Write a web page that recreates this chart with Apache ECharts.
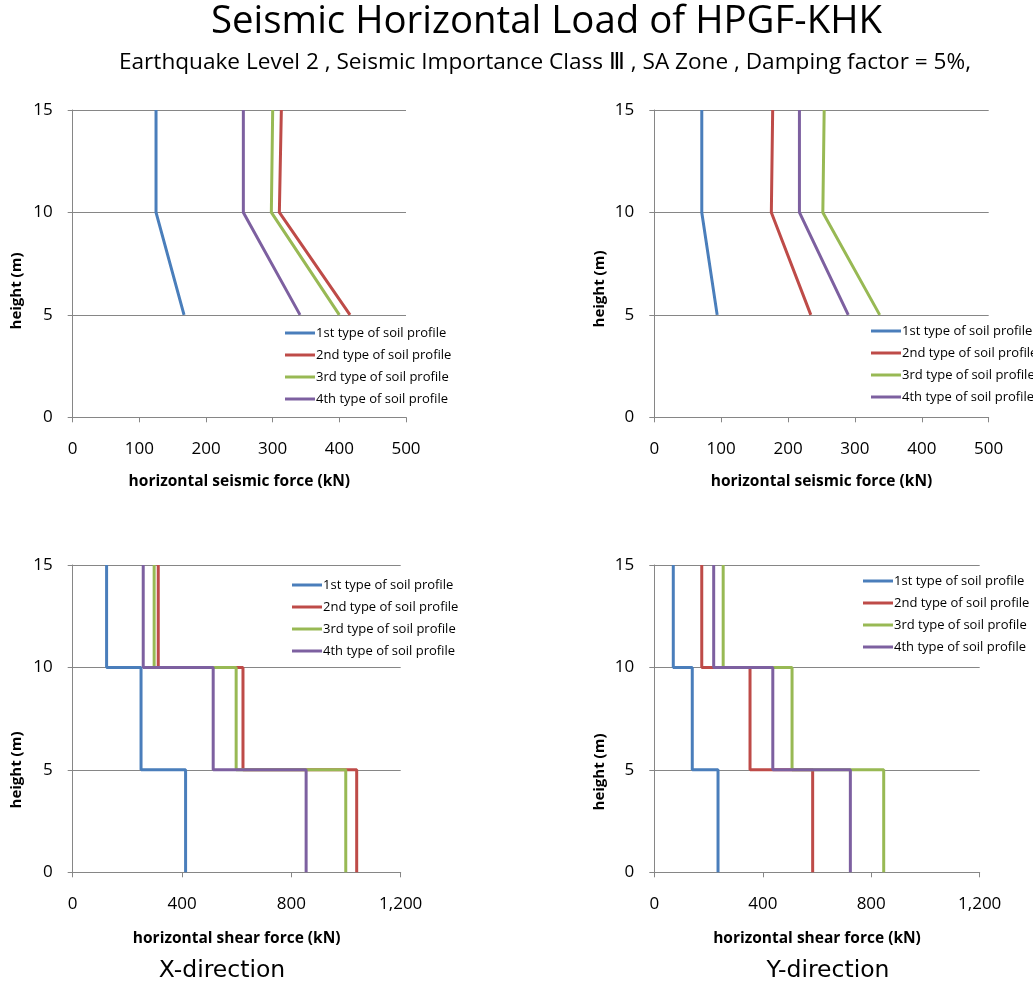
<!DOCTYPE html>
<html>
<head>
<meta charset="utf-8">
<title>Seismic Horizontal Load of HPGF-KHK</title>
<script src="https://cdn.jsdelivr.net/npm/echarts@6/dist/echarts.min.js"></script>
<style>
  html, body { margin: 0; padding: 0; background: #fff; }
  #chart { width: 1033px; height: 987px; }
</style>
</head>
<body>
<div id="chart"></div>
<script>
// Soil profile series names and colours
const soilTypes = ['1st type of soil profile', '2nd type of soil profile', '3rd type of soil profile', '4th type of soil profile'];
const colors = ['#4A7EBB', '#BE4B48', '#98B954', '#7D60A0'];

// Storey levels (m) at which horizontal forces act
const forceLevels = [15, 10, 5];
// Storey boundaries (m) for shear steps
const shearLevels = [15, 10, 5, 0];

// Horizontal seismic force (kN) at levels 15 / 10 / 5, X direction
const forceX1 = [125, 125, 167];
const forceX2 = [313, 310, 416];
const forceX3 = [300, 298, 400];
const forceX4 = [256, 256, 341];

// Horizontal seismic force (kN) at levels 15 / 10 / 5, Y direction
const forceY1 = [71, 71, 94];
const forceY2 = [177, 175, 234];
const forceY3 = [254, 252, 337];
const forceY4 = [217, 217, 290];

// Storey shear (kN) for storeys 15-10 / 10-5 / 5-0, X direction
const shearX1 = [124, 250, 413];
const shearX2 = [313, 623, 1039];
const shearX3 = [298, 598, 999];
const shearX4 = [258, 514, 854];

// Storey shear (kN) for storeys 15-10 / 10-5 / 5-0, Y direction
const shearY1 = [70, 140, 235];
const shearY2 = [175, 353, 584];
const shearY3 = [254, 508, 846];
const shearY4 = [219, 437, 723];

// Axis ticks
const heightTicks = { min: 0, max: 15, interval: 5 };
const forceTicks = { min: 0, max: 500, interval: 100 };
const shearTicks = { min: 0, max: 1200, interval: 400 };

const FONT = '"Open Sans", "Noto Sans", sans-serif';
const AXIS_GREY = '#868686';

// Force profile: one point per level, joined by straight segments
function forcePoints(vals) {
  return vals.map((v, i) => [v, forceLevels[i]]);
}
// Shear profile: constant within each storey, stepping at the boundaries
function shearPoints(vals) {
  const pts = [];
  vals.forEach((v, i) => {
    pts.push([v, shearLevels[i]]);
    pts.push([v, shearLevels[i + 1]]);
  });
  return pts;
}

const grids = [
  { left: 72.7, right: 627,  top: 110, height: 307.3 },
  { left: 654.3, right: 44.3, top: 110, height: 307.3 },
  { left: 72.7, right: 632.3, top: 565, height: 307.3 },
  { left: 654.3, right: 53.3, top: 565, height: 307.3 }
];

function xAxisFor(idx, ticks, name, gap, fmt) {
  return {
    gridIndex: idx, type: 'value',
    min: ticks.min, max: ticks.max, interval: ticks.interval,
    name: name, nameLocation: 'middle', nameGap: gap,
    nameTextStyle: { fontFamily: FONT, fontWeight: 'bold', fontSize: 15.5, color: '#000' },
    axisLine: { show: true, lineStyle: { color: AXIS_GREY, width: 1 } },
    axisTick: { show: true, inside: false, length: 5, lineStyle: { color: AXIS_GREY } },
    axisLabel: { margin: 23, fontFamily: FONT, fontSize: 17, color: '#000', formatter: fmt },
    splitLine: { show: false }
  };
}
function yAxisFor(idx) {
  return {
    gridIndex: idx, type: 'value',
    min: heightTicks.min, max: heightTicks.max, interval: heightTicks.interval,
    axisLine: { show: true, lineStyle: { color: AXIS_GREY, width: 1 } },
    axisTick: { show: true, inside: false, length: 5, lineStyle: { color: AXIS_GREY } },
    axisLabel: { margin: 20, fontFamily: FONT, fontSize: 17, color: '#000' },
    splitLine: { show: true, lineStyle: { color: AXIS_GREY, width: 1 } }
  };
}
const thousands = v => v.toLocaleString('en-US');

const panels = [
  [forceX1, forceX2, forceX3, forceX4, forcePoints],
  [forceY1, forceY2, forceY3, forceY4, forcePoints],
  [shearX1, shearX2, shearX3, shearX4, shearPoints],
  [shearY1, shearY2, shearY3, shearY4, shearPoints]
];

const series = [];
panels.forEach((p, gi) => {
  const build = p[4];
  for (let k = 0; k < 4; k++) {
    series.push({
      type: 'line', name: soilTypes[k],
      xAxisIndex: gi, yAxisIndex: gi,
      data: build(p[k]),
      showSymbol: false, symbol: 'none',
      lineStyle: { width: 3, color: colors[k] },
      itemStyle: { color: colors[k] },
      animation: false, silent: true
    });
  }
});

function legendAt(left, top) {
  return {
    left: left, top: top, orient: 'vertical', padding: 0,
    data: soilTypes, icon: 'rect', itemWidth: 30, itemHeight: 3,
    itemGap: 8, selectedMode: false,
    textStyle: { fontFamily: FONT, fontSize: 13, color: '#000', lineHeight: 14, padding: [0, 0, 0, -4] }
  };
}

function heightLabel(x, y) {
  return {
    type: 'text', x: x, y: y, rotation: Math.PI / 2,
    style: { text: 'height (m)', font: 'bold 15px ' + FONT, fill: '#000', textAlign: 'center', textVerticalAlign: 'middle' }
  };
}
function dirLabel(x, y, text) {
  return {
    type: 'text', x: x, y: y,
    style: { text: text, font: '23.5px "DejaVu Sans", sans-serif', fill: '#000', textAlign: 'center', textVerticalAlign: 'middle' }
  };
}

const chart = echarts.init(document.getElementById('chart'), null, { renderer: 'canvas' });
chart.setOption({
  backgroundColor: '#fff',
  animation: false,
  color: colors,
  title: [
    {
      text: 'Seismic Horizontal Load of HPGF-KHK',
      left: 211, top: 3, padding: 0,
      textStyle: { fontFamily: FONT, fontWeight: 'normal', fontSize: 38.4, color: '#000' }
    },
    {
      text: 'Earthquake Level 2 , Seismic Importance Class Ⅲ , SA Zone , Damping factor = 5%,',
      left: 119, top: 51, padding: 0,
      textStyle: { fontFamily: FONT, fontWeight: 'normal', fontSize: 22.6, color: '#000' }
    }
  ],
  grid: grids,
  xAxis: [
    xAxisFor(0, forceTicks, 'horizontal seismic force (kN)', 56),
    xAxisFor(1, forceTicks, 'horizontal seismic force (kN)', 56),
    xAxisFor(2, shearTicks, 'horizontal shear force (kN)', 58, thousands),
    xAxisFor(3, shearTicks, 'horizontal shear force (kN)', 58, thousands)
  ],
  yAxis: [yAxisFor(0), yAxisFor(1), yAxisFor(2), yAxisFor(3)],
  legend: [
    legendAt(285, 326),
    legendAt(871, 324),
    legendAt(292, 578),
    legendAt(863, 574)
  ],
  graphic: [
    heightLabel(17, 291),
    heightLabel(600, 289),
    heightLabel(17, 770),
    heightLabel(600, 772),
    dirLabel(222, 971, 'X-direction'),
    dirLabel(828, 971, 'Y-direction')
  ],
  series: series
});
</script>
</body>
</html>
